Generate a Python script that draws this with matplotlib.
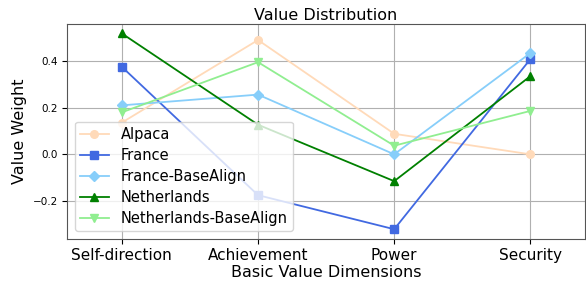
import matplotlib
matplotlib.use('Agg')
import matplotlib.pyplot as plt

dimensions = ['Self-direction', 'Achievement', 'Power', 'Security']

alpaca = [0.136, 0.490, 0.088, 0.000]
france = [0.375, -0.175, -0.321, 0.408]
france_base = [0.210, 0.256, 0.000, 0.434]
netherlands = [0.518, 0.127, -0.115, 0.335]
netherlands_base = [0.180, 0.395, 0.037, 0.186]

series = [
    ('Alpaca', alpaca, 'peachpuff', 'o'),
    ('France', france, 'royalblue', 's'),
    ('France-BaseAlign', france_base, 'lightskyblue', 'D'),
    ('Netherlands', netherlands, 'green', '^'),
    ('Netherlands-BaseAlign', netherlands_base, 'lightgreen', 'v'),
]

fig, ax = plt.subplots(figsize=(5.86, 2.84), dpi=100)
x = range(len(dimensions))
for name, vals, color, marker in series:
    ax.plot(x, vals, color=color, marker=marker, markersize=5.5,
            linewidth=1.3, label=name)

ax.set_xticks(list(x))
ax.set_xticklabels(dimensions, fontsize=11)
ax.tick_params(axis='y', labelsize=7.5)
ax.set_xlim(-0.4, 3.4)
ax.set_ylim(-0.361, 0.558)
ax.set_yticks([-0.2, 0.0, 0.2, 0.4])
ax.grid(True, color='#b0b0b0', linewidth=0.8)
for s in ax.spines.values():
    s.set_color('#555555')

ax.set_title('Value Distribution', fontsize=11.5, pad=3)
ax.set_xlabel('Basic Value Dimensions', fontsize=11.5, labelpad=1)
ax.set_ylabel('Value Weight', fontsize=11.5)
ax.legend(loc='lower left', fontsize=10.5, handlelength=2.0,
          borderpad=0.35, labelspacing=0.42)

fig.subplots_adjust(left=0.115, right=0.998, top=0.915, bottom=0.16)
fig.savefig('out.png', dpi=100)
